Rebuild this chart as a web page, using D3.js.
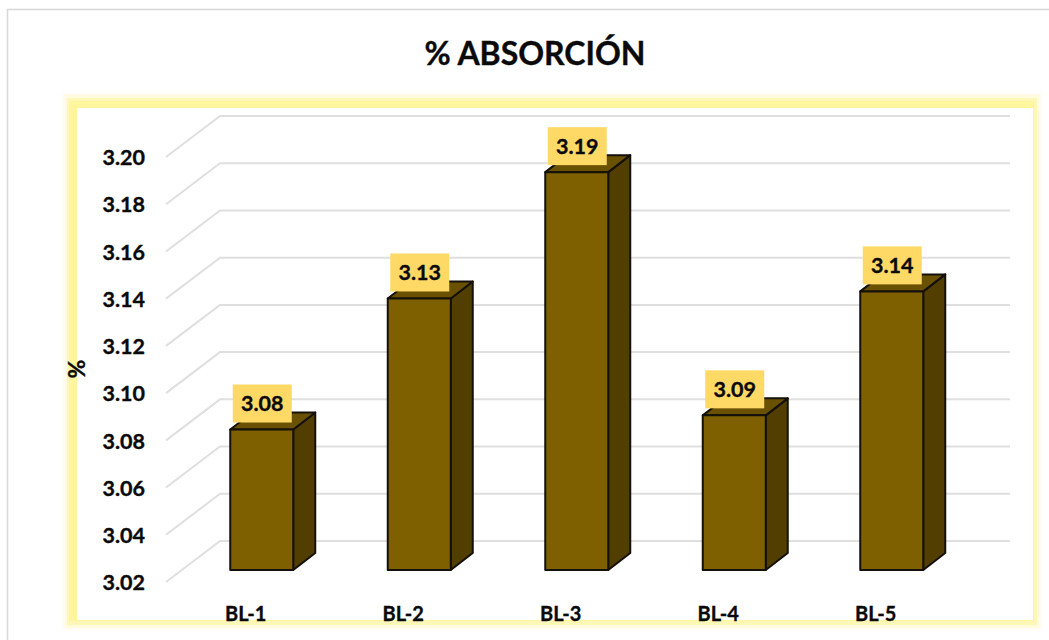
<!DOCTYPE html>
<html><head><meta charset="utf-8">
<script src="https://cdn.jsdelivr.net/npm/d3@7"></script>
<style>html,body{margin:0;padding:0;background:#fff}svg{display:block}text{font-family:Lato,"Open Sans",sans-serif;font-weight:700;fill:#0a0a0a;stroke:#0a0a0a;stroke-width:.35px}</style>
</head><body><svg id="c" width="1049" height="640"></svg>
<script>
const categories = ["BL-1","BL-2","BL-3","BL-4","BL-5"];
const values = [3.0795,3.135,3.1885,3.0855,3.138];
const valueLabels = ["3.08","3.13","3.19","3.09","3.14"];
const yTicks = [3.02,3.04,3.06,3.08,3.10,3.12,3.14,3.16,3.18,3.20];
const titleText = "% ABSORCIÓN";
const yTitle = "%";

const svg = d3.select("#c");
const x = d3.scaleBand().domain(categories).range([166,953.5]).paddingInner(0).paddingOuter(0);
const y = d3.scaleLinear().domain([3.02,3.20]).range([582,157]);
const gridLeft = 166, gridRight = 956;
const depth = {dx:54,dy:-41};
const bar = {w:63,off:{dx:17,dy:-12},d:{dx:22,dy:-17}};

// outer frame
svg.append("rect").attr("x",7.5).attr("y",9.5).attr("width",1060).attr("height",660)
  .attr("fill","#fff").attr("stroke","#d9d9d9").attr("stroke-width",1.6);

// plot frame with soft glow, heavier on the left and top
const layer = (x0,y0,x1,y1,fill)=>svg.append("rect").attr("x",x0).attr("y",y0).attr("width",x1-x0).attr("height",y1-y0).attr("fill",fill);
layer(62,93,1042,630,"#fffdf3");
layer(65,95,1039,628,"#fffbdc");
layer(67,98,1037,625,"#fff7b8");
layer(69,101,1034,621,"#fff59d");
layer(77,108,1033,620,"#ffffff");

// title
svg.append("text").attr("x",535).attr("y",65).attr("text-anchor","middle").attr("font-size",32).text(titleText);

// gridlines
const grid = svg.append("g").attr("fill","none").attr("stroke","#dfdfdf").attr("stroke-width",2);
yTicks.forEach(t=>{
  const p = d3.path();
  p.moveTo(gridLeft,y(t));
  p.lineTo(gridLeft+depth.dx,y(t)+depth.dy);
  p.lineTo(gridRight+depth.dx,y(t)+depth.dy);
  grid.append("path").attr("d",p.toString());
});

// y axis
const yAxis = d3.axisLeft(y).tickValues(yTicks).tickFormat(d3.format(".2f")).tickSize(0).tickPadding(0);
const ya = svg.append("g").attr("transform","translate(145,0)").call(yAxis);
ya.select(".domain").remove();
ya.selectAll("text").attr("font-size",21.5).attr("dy","0.36em");

svg.append("text").attr("transform","translate(85,369) rotate(-90)").attr("text-anchor","middle").attr("font-size",23).text(yTitle);

// bars
const bars = svg.append("g").selectAll("g").data(categories).join("g");
const base = y(3.02)+bar.off.dy;
bars.each(function(c,i){
  const g = d3.select(this);
  const x0 = x(c)+x.bandwidth()/2-bar.w/2+bar.off.dx;
  const x1 = x0+bar.w;
  const top = y(values[i])+bar.off.dy;
  const {dx,dy} = bar.d;
  const st = s=>s.attr("stroke","#14100a").attr("stroke-width",2).attr("stroke-linejoin","round");
  st(g.append("polygon").attr("points",[[x1,top],[x1+dx,top+dy],[x1+dx,base+dy],[x1,base]].join(" ")).attr("fill","#523f00"));
  st(g.append("polygon").attr("points",[[x0,top],[x0+dx,top+dy],[x1+dx,top+dy],[x1,top]].join(" ")).attr("fill","#6a5100"));
  st(g.append("rect").attr("x",x0).attr("y",top).attr("width",bar.w).attr("height",base-top).attr("fill","#7f6000"));
  // data label
  g.append("rect").attr("x",x0+2.5).attr("y",top-45).attr("width",59).attr("height",38).attr("fill","#ffd966");
  g.append("text").attr("x",x0+32).attr("y",top-26).attr("dy","0.36em").attr("text-anchor","middle").attr("font-size",21.5).text(valueLabels[i]);
  // category label
  svg.append("text").attr("x",x(c)+x.bandwidth()/2+1).attr("y",621).attr("text-anchor","middle").attr("font-size",20).text(c);
});
</script></body></html>
